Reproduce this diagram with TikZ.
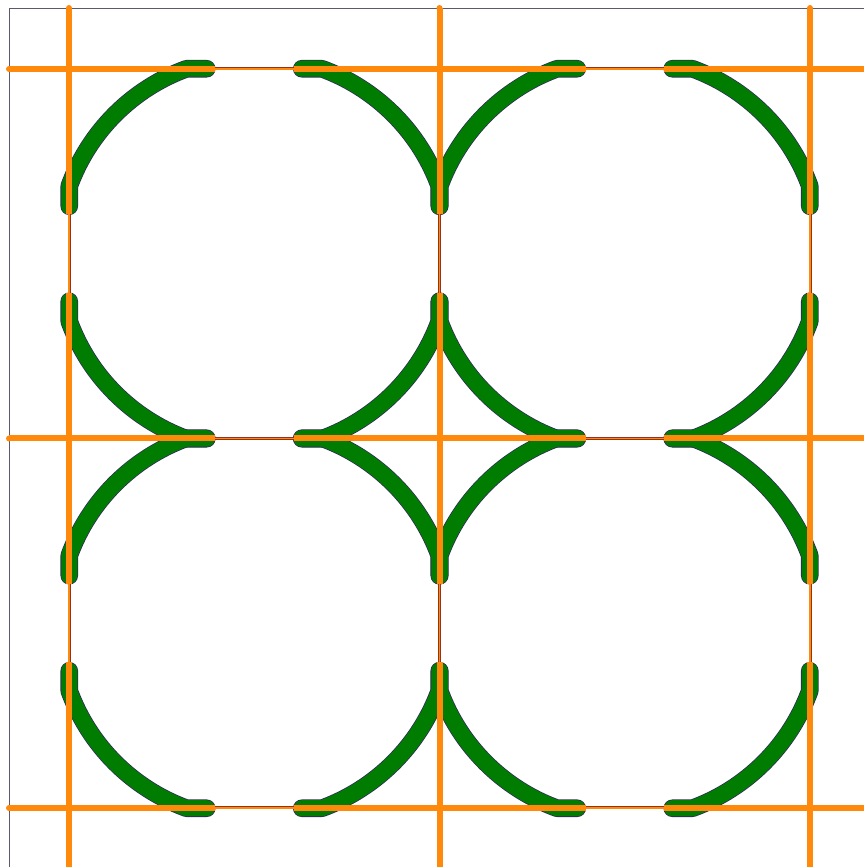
\documentclass[tikz,border=0pt]{standalone}
\begin{document}
\begin{tikzpicture}[x=1pt,y=1pt]
\definecolor{ringgreen}{RGB}{0,125,0}
\definecolor{ringedge}{RGB}{45,45,85}
\definecolor{gridorange}{RGB}{255,137,10}
\definecolor{gapedge}{RGB}{150,50,25}
\definecolor{framegrey}{RGB}{90,90,110}
\tikzset{
  arcedge/.style={draw=ringedge,line width=17.6pt,line cap=round,line join=round},
  arcfill/.style={draw=ringgreen,line width=16pt,line cap=round,line join=round},
  gridline/.style={draw=gridorange,line width=6pt,line cap=butt},
  gapout/.style={draw=gapedge,line width=3pt,line cap=butt},
  gapin/.style={draw=gridorange,line width=1.4pt,line cap=butt},
  framel/.style={draw=framegrey,line width=0.9pt}
}
\useasboundingbox (0,0) rectangle (864,867);
\fill[white] (0,0) rectangle (864,867);
% frame
\draw[framel] (9,-5) -- (9,859) -- (870,859);
% green arcs: outlines then fills
\foreach \sty in {arcedge,arcfill}{
  \foreach \cx in {254.25,624.75}{
    \foreach \cy in {613.25,243.75}{
      \foreach \r in {0,90,180,270}{
        \begin{scope}[shift={(\cx,\cy)},rotate=\r]
          \draw[\sty] (-47.5,185) -- (-67.7,185) arc[start angle=110.1,end angle=159.9,radius=197pt] -- (-185,47.5);
        \end{scope}
      }
    }
  }
}
% orange grid lines with gaps
\foreach \x in {69,439.5,810}{
  \draw[gridline] (\x,-5) -- (\x,204.5);
  \draw[gridline] (\x,283) -- (\x,574);
  \draw[gridline] (\x,652.5) -- (\x,859);
  \fill[gridorange] (\x,859) circle (3);
  \draw[gapout] (\x,204.5) -- (\x,283);
  \draw[gapout] (\x,574) -- (\x,652.5);
  \draw[gapin] (\x,204.5) -- (\x,283);
  \draw[gapin] (\x,574) -- (\x,652.5);
}
\foreach \y in {798,428.5,59}{
  \draw[gridline] (9,\y) -- (215,\y);
  \draw[gridline] (293.5,\y) -- (585.5,\y);
  \draw[gridline] (664,\y) -- (870,\y);
  \fill[gridorange] (9,\y) circle (3);
  \draw[gapout] (215,\y) -- (293.5,\y);
  \draw[gapout] (585.5,\y) -- (664,\y);
  \draw[gapin] (215,\y) -- (293.5,\y);
  \draw[gapin] (585.5,\y) -- (664,\y);
}
\end{tikzpicture}
\end{document}
